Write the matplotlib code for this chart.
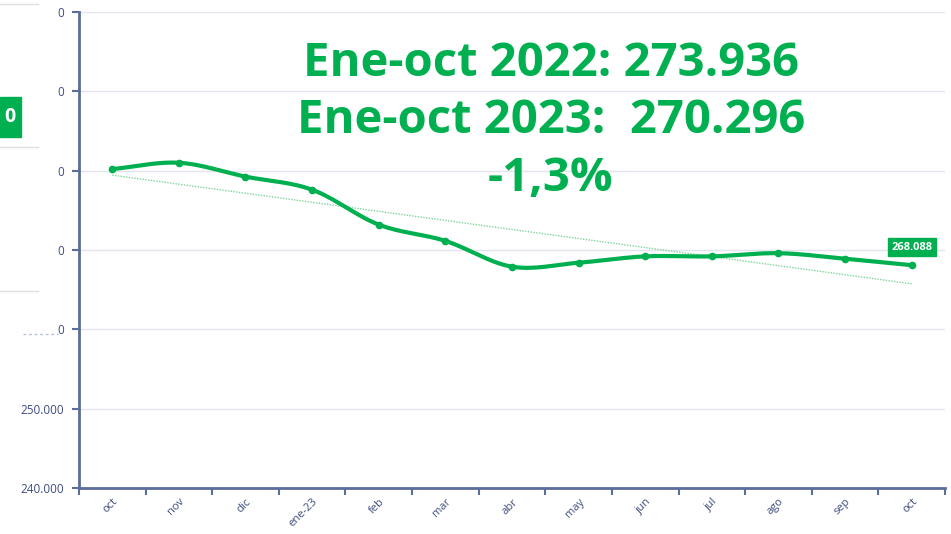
import numpy as np
import matplotlib
matplotlib.use("Agg")
import matplotlib.pyplot as plt
from matplotlib.patches import Rectangle
from matplotlib.lines import Line2D

plt.rcParams['font.family'] = ['Open Sans', 'DejaVu Sans']

months = ["oct", "nov", "dic", "ene-23", "feb", "mar", "abr", "may",
          "jun", "jul", "ago", "sep", "oct"]
values = [280.2, 281.0, 279.25, 277.6, 273.2, 271.15, 267.9, 268.4,
          269.2, 269.2, 269.6, 268.9, 268.088]
ytick_vals = [240, 250, 260, 270, 280, 290, 300]
ytick_labels = ["240.000", "250.000", "0", "0", "0", "0", "0"]
last_label = "268.088"
summary = ["Ene-oct 2022: 273.936", "Ene-oct 2023:  270.296", "-1,3%"]

green = "#00B050"
axis_col = "#5B6D9A"
text_col = "#3E4D7E"


def catmull_rom(x, y, n=30):
    x = np.asarray(x, float)
    y = np.asarray(y, float)
    px = np.concatenate([[2 * x[0] - x[1]], x, [2 * x[-1] - x[-2]]])
    py = np.concatenate([[2 * y[0] - y[1]], y, [2 * y[-1] - y[-2]]])
    xs, ys = [], []
    t = np.linspace(0, 1, n)
    for i in range(1, len(px) - 2):
        for p, out in ((px, xs), (py, ys)):
            p0, p1, p2, p3 = p[i - 1], p[i], p[i + 1], p[i + 2]
            out.append(0.5 * ((2 * p1) + (-p0 + p2) * t
                              + (2 * p0 - 5 * p1 + 4 * p2 - p3) * t ** 2
                              + (-p0 + 3 * p1 - 3 * p2 + p3) * t ** 3))
    return np.concatenate(xs), np.concatenate(ys)


fig = plt.figure(figsize=[9.51, 5.34], dpi=100)
ax = fig.add_axes([0.083, 0.0861, 0.9107, 0.8914])

x = np.arange(len(months))
sx, sy = catmull_rom(x, values)
ax.plot(sx, sy, color=green, lw=3.0, solid_capstyle="round", zorder=3)
ax.plot(x, values, "o", color=green, ms=4.5, zorder=4)

# linear trend
k, b = np.polyfit(x, values, 1)
ax.plot(x[[0, -1]], k * x[[0, -1]] + b, color="#7FD49A", lw=1, ls=(0, (1, 1)), zorder=2)

ax.set_xlim(-0.5, len(months) - 0.5)
ax.set_ylim(240, 300)
ax.set_yticks(ytick_vals)
ax.set_yticklabels(ytick_labels)
ax.set_xticks(np.arange(len(months) + 1) - 0.5)
ax.set_xticklabels([])
ax.set_xticks(x, minor=True)
ax.set_xticklabels(months, minor=True, rotation=45, ha="right", va="top",
                   rotation_mode="anchor")
ax.tick_params(axis="x", which="minor", length=0, pad=6, labelsize=8, labelcolor=text_col)
ax.tick_params(axis="x", which="major", length=5, width=1.5, color=axis_col)
ax.tick_params(axis="y", length=5, width=1.5, color=axis_col, labelsize=8.5, labelcolor=text_col, pad=6)

ax.grid(axis="y", color="#E4E4EE", lw=1)
ax.set_axisbelow(True)
for s in ["top", "right"]:
    ax.spines[s].set_visible(False)
for s in ["left", "bottom"]:
    ax.spines[s].set_color(axis_col)
    ax.spines[s].set_linewidth(2)

ax.annotate(last_label, (x[-1], values[-1]), xytext=(0, 13), textcoords="offset points",
            ha="center", va="center", color="white", fontsize=8, fontweight="bold",
            bbox=dict(boxstyle="square,pad=0.3", fc=green, ec=green))

ypos = [0.882, 0.775, 0.665]
for t, yy in zip(summary, ypos):
    fig.text(0.579, yy, t, ha="center", va="center", color=green,
             fontsize=34, fontweight="bold")

# leftover dashboard pieces on the left edge
for yy in [4, 147, 291]:
    fig.add_artist(Line2D([0, 38 / 951], [1 - yy / 534] * 2, color="#E0E0E0", lw=1))
fig.add_artist(Rectangle((0, 1 - 137 / 534), 21 / 951, 40 / 534, color=green,
                         transform=fig.transFigure))
fig.text(10 / 951, 1 - 117 / 534, "0", ha="center", va="center", color="white",
         fontsize=14, fontweight="bold")
fig.add_artist(Line2D([23 / 951, 58 / 951], [1 - 334 / 534] * 2, color="#B8C0D8",
                      lw=1, ls=(0, (2, 2))))

fig.savefig("out.png", dpi=100)
